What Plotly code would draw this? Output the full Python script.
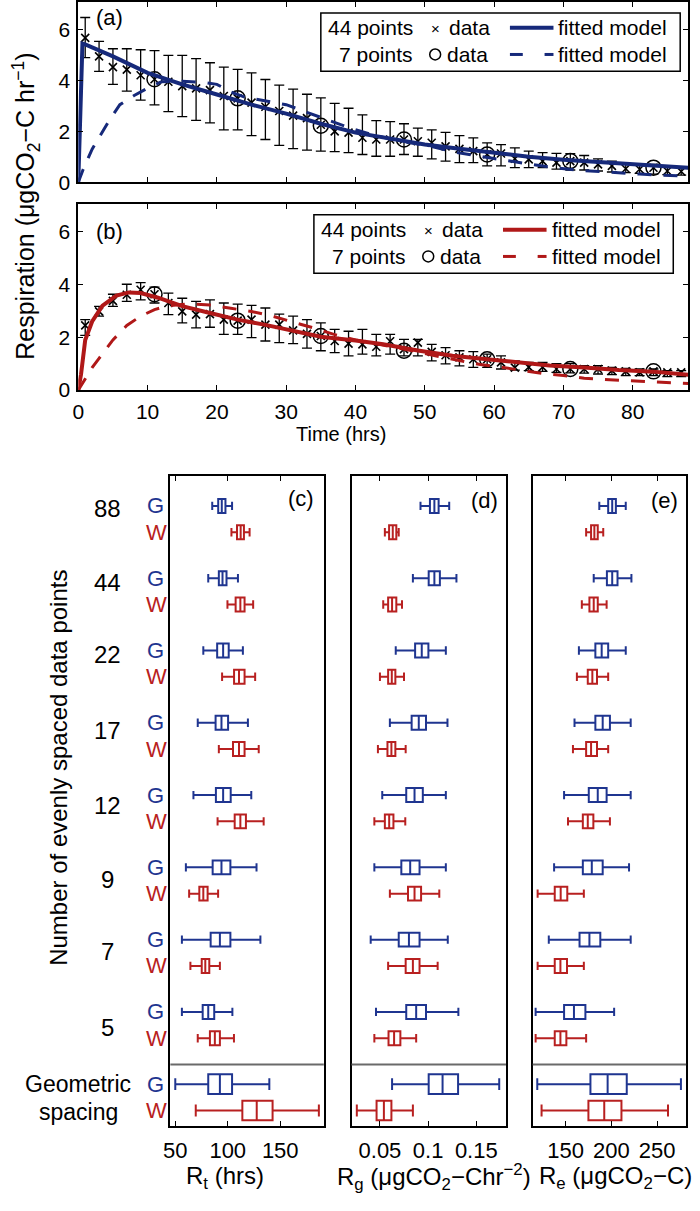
import plotly.graph_objects as go

W_PX, H_PX = 700, 1211
BLUE = "#16297a"
BLUE_BOX = "#1f3590"
RED = "#b01818"
RED_BOX = "#b82020"
FONT = "Liberation Sans, Arial, sans-serif"

# ---------------- time-series data ----------------
time_44 = list(range(1, 88, 2))
time_7 = [11, 23, 35, 47, 59, 71, 83]

resp_a_mean = [5.68, 4.95, 4.53, 4.43, 4.21, 4.05, 3.95, 3.78, 3.69, 3.62, 3.39, 3.30, 3.13, 2.97, 2.80,
               2.62, 2.52, 2.26, 2.00, 1.95, 1.75, 1.68, 1.68, 1.68, 1.61, 1.55, 1.41, 1.31, 1.22, 1.10,
               1.13, 0.92, 0.90, 0.83, 0.77, 0.83, 0.77, 0.70, 0.64, 0.53, 0.51, 0.57, 0.44, 0.42]
resp_a_upper = [6.48, 5.54, 5.25, 5.25, 5.21, 5.18, 4.99, 4.99, 4.86, 4.70, 4.53, 4.44, 4.30, 4.04, 3.82,
                3.66, 3.46, 3.32, 3.10, 2.91, 2.65, 2.42, 2.38, 2.30, 2.13, 2.06, 1.96, 1.83, 1.74, 1.55,
                1.48, 1.35, 1.22, 1.16, 1.13, 1.12, 1.05, 0.92, 0.83, 0.74, 0.70, 0.70, 0.60, 0.58]
resp_a_lower = [4.90, 4.36, 3.85, 3.58, 3.23, 3.04, 2.78, 2.58, 2.43, 2.33, 2.06, 2.06, 1.83, 1.68, 1.45,
                1.32, 1.26, 1.22, 1.20, 1.16, 1.09, 1.02, 1.02, 1.09, 1.02, 0.92, 0.83, 0.77, 0.77, 0.64,
                0.64, 0.57, 0.57, 0.57, 0.51, 0.48, 0.48, 0.44, 0.40, 0.38, 0.35, 0.32, 0.30, 0.28]
resp_a_7 = [4.05, 3.30, 2.22, 1.68, 1.09, 0.83, 0.57]

fit_a44_t = [0, 0.6, 1, 2, 5, 10, 15, 20, 25, 30, 35, 40, 45, 50, 55, 60, 65, 70, 75, 80, 85, 88]
fit_a44 = [0, 5.45, 5.42, 5.30, 4.95, 4.30, 3.85, 3.45, 3.05, 2.70, 2.30, 1.95, 1.72, 1.48, 1.32,
           1.15, 1.00, 0.88, 0.80, 0.70, 0.62, 0.57]
fit_a7_t = [0, 0.7, 2, 3, 4.4, 6, 8, 10, 12, 15, 18, 20, 22, 24, 27, 30, 33, 36, 39, 42, 45, 48, 51,
            54, 57, 60, 63, 66, 69, 72, 75, 78, 81, 84, 88]
fit_a7 = [0, 0.5, 1.3, 1.75, 2.4, 3.05, 3.4, 3.7, 3.95, 3.97, 3.93, 3.85, 3.55, 3.35, 3.2, 3.05, 2.75,
          2.45, 2.15, 1.9, 1.7, 1.55, 1.4, 1.2, 1.05, 0.93, 0.8, 0.68, 0.56, 0.47, 0.41, 0.36, 0.32,
          0.28, 0.24]

resp_b_mean = [2.45, 2.98, 3.38, 3.61, 3.80, 3.63, 3.30, 2.98, 2.86, 2.88, 2.67, 2.63, 2.67, 2.48, 2.48,
               2.26, 2.13, 2.05, 1.86, 1.76, 1.73, 1.64, 1.85, 1.55, 1.80, 1.45, 1.32, 1.24, 1.17, 1.17,
               1.05, 0.85, 0.87, 0.87, 0.80, 0.80, 0.80, 0.80, 0.74, 0.71, 0.67, 0.71, 0.67, 0.67]
resp_b_upper = [2.67, 3.17, 3.63, 4.01, 4.07, 3.90, 3.67, 3.48, 3.36, 3.42, 3.30, 3.26, 3.21, 3.11, 2.88,
                2.80, 2.67, 2.55, 2.30, 2.23, 2.30, 2.11, 2.11, 1.92, 1.92, 1.73, 1.61, 1.49, 1.46, 1.36,
                1.30, 1.11, 1.05, 1.05, 1.00, 1.00, 0.93, 0.93, 0.86, 0.82, 0.80, 0.80, 0.74, 0.74]
resp_b_lower = [2.07, 2.80, 3.17, 3.36, 3.42, 3.30, 2.86, 2.55, 2.36, 2.38, 2.11, 2.11, 1.99, 1.86, 1.80,
                1.76, 1.59, 1.49, 1.42, 1.30, 1.36, 1.30, 1.36, 1.30, 1.30, 1.11, 0.99, 0.92, 0.86, 0.86,
                0.80, 0.76, 0.74, 0.71, 0.67, 0.65, 0.64, 0.61, 0.59, 0.55, 0.55, 0.55, 0.51, 0.51]
resp_b_7 = [3.63, 2.63, 2.05, 1.49, 1.17, 0.80, 0.71]

fit_b44_t = [0, 0.4, 1, 2, 3.5, 5.5, 7.3, 9, 11.5, 15, 19, 23, 27, 31, 35, 40, 44, 49, 54, 59, 64, 68,
             73, 78, 83, 88]
fit_b44 = [0, 0.6, 1.9, 2.6, 3.2, 3.58, 3.7, 3.68, 3.5, 3.18, 2.92, 2.67, 2.47, 2.25, 2.02, 1.88, 1.74,
           1.5, 1.3, 1.17, 1.05, 0.93, 0.86, 0.76, 0.7, 0.58]
fit_b7_t = [0, 1, 2, 3, 5, 7, 9, 11, 13, 16, 19, 22, 25, 28, 31, 34, 37, 40, 43, 46, 49, 52, 55, 58, 61,
            64, 67, 70, 73, 76, 79, 82, 85, 88]
fit_b7 = [0, 0.45, 0.85, 1.2, 1.9, 2.45, 2.8, 3.05, 3.2, 3.27, 3.22, 3.1, 2.98, 2.8, 2.58, 2.35, 2.1,
          1.9, 1.75, 1.6, 1.45, 1.27, 1.12, 0.97, 0.87, 0.76, 0.63, 0.55, 0.45, 0.4, 0.36, 0.33, 0.3,
          0.25]

# ---------------- box-plot data ----------------
groups = ["88", "44", "22", "17", "12", "9", "7", "5", "Geometric"]
# each: [lower whisker, q1, median, q3, upper whisker]
rt_G = [[85.2, 90.9, 94.3, 97.8, 104.1], [81.4, 91.5, 95.0, 98.8, 109.7], [76.7, 89.9, 95.6, 100.9, 114.4],
        [71.4, 88.4, 94.0, 100.3, 119.2], [67.3, 88.7, 95.6, 102.8, 122.4], [60.1, 85.6, 94.0, 102.5, 127.4],
        [56.3, 83.7, 92.5, 102.5, 131.1], [56.3, 76.1, 81.4, 87.1, 104.4], [50.0, 81.4, 92.5, 104.1, 139.6]]
rt_W = [[103.5, 108.8, 112.3, 115.4, 120.8], [99.7, 107.5, 112.0, 116.0, 124.2], [94.6, 106.0, 110.7, 116.0, 126.1],
        [91.5, 105.0, 110.7, 116.0, 129.5], [90.3, 106.6, 112.0, 117.3, 134.2], [63.2, 72.9, 76.7, 80.8, 90.8],
        [64.4, 75.2, 78.6, 82.4, 92.5], [71.4, 83.0, 87.7, 92.5, 105.9], [69.5, 113.9, 127.6, 142.7, 186.8]]
rg_G = [[0.0921, 0.1019, 0.1065, 0.1109, 0.1219], [0.0842, 0.1006, 0.1065, 0.1122, 0.1294],
        [0.0664, 0.0865, 0.0934, 0.1003, 0.1184], [0.0603, 0.0829, 0.0903, 0.0978, 0.1201],
        [0.0524, 0.0773, 0.0859, 0.0945, 0.1184], [0.0442, 0.0722, 0.0814, 0.0911, 0.1184],
        [0.0404, 0.0695, 0.0801, 0.0911, 0.1204], [0.0459, 0.0773, 0.0876, 0.0978, 0.1314],
        [0.0626, 0.1006, 0.1150, 0.1311, 0.1738]]
rg_W = [[0.0551, 0.0595, 0.0633, 0.0670, 0.0695], [0.0534, 0.0585, 0.0626, 0.0670, 0.0729],
        [0.0500, 0.0585, 0.0623, 0.0660, 0.0750], [0.0479, 0.0578, 0.0619, 0.0660, 0.0767],
        [0.0442, 0.0551, 0.0596, 0.0640, 0.0763], [0.0603, 0.0791, 0.0859, 0.0927, 0.1116],
        [0.0585, 0.0767, 0.0842, 0.0911, 0.1099], [0.0442, 0.0589, 0.0647, 0.0712, 0.0876],
        [0.0260, 0.0465, 0.0541, 0.0619, 0.0842]]
re_G = [[186.8, 196.5, 200.9, 204.9, 215.7], [180.7, 195.1, 200.9, 206.7, 221.9], [164.5, 182.5, 189.4, 196.5, 215.7],
        [159.7, 182.5, 190.5, 198.4, 221.1], [148.3, 175.3, 185.1, 194.8, 221.1], [137.4, 168.8, 178.6, 190.5, 219.3],
        [131.6, 165.2, 176.0, 187.9, 221.1], [117.2, 148.3, 159.1, 171.6, 203.0], [119.0, 177.1, 195.9, 216.8, 276.0]]
re_W = [[172.4, 177.8, 181.4, 185.1, 191.1], [167.7, 176.0, 180.7, 185.1, 194.8], [162.3, 174.2, 179.2, 184.3, 196.5],
        [158.0, 172.4, 177.8, 184.3, 196.5], [152.6, 168.8, 174.2, 180.3, 198.4], [119.4, 138.1, 144.6, 151.8, 169.9],
        [119.4, 138.1, 144.3, 151.5, 169.9], [117.2, 138.1, 144.3, 150.8, 172.4], [123.7, 174.9, 192.2, 211.0, 261.9]]

rt_ticks = [50, 100, 150]
rg_ticks = [0.05, 0.1, 0.15]
rg_ticktext = ["0.05", "0.1", "0.15"]
re_ticks = [150, 200, 250]

# group slot positions on the (reversed) category axis
GROUP_STEP = 2.75
g_pos = [i * GROUP_STEP for i in range(len(groups))]
w_pos = [p + 1 for p in g_pos]
label_pos = [0.11, 2.90, 5.65, 8.55, 11.41, 14.2, 16.95, 19.85]


def px_x(x):
    return x / W_PX


def px_y(y):
    return 1 - y / H_PX


fig = go.Figure()

# ---- panel (a) and (b) ----
def add_ts(xa, ya, mean, up, lo, d7, f44t, f44, f7t, f7, color):
    fig.add_trace(go.Scatter(
        x=time_44, y=mean, mode="markers", xaxis=xa, yaxis=ya, showlegend=False,
        marker=dict(symbol="x-thin", size=8, color="black", line=dict(width=1.6, color="black")),
        error_y=dict(type="data", symmetric=False,
                     array=[u - m for u, m in zip(up, mean)],
                     arrayminus=[m - l for m, l in zip(mean, lo)],
                     color="black", thickness=1.3, width=5)))
    fig.add_trace(go.Scatter(
        x=time_7, y=d7, mode="markers", xaxis=xa, yaxis=ya, showlegend=False,
        marker=dict(symbol="circle-open", size=15, color="black", line=dict(width=1.5, color="black"))))
    fig.add_trace(go.Scatter(x=f7t, y=f7, mode="lines", xaxis=xa, yaxis=ya, showlegend=False,
                             line=dict(color=color, width=3, dash="14px,12px")))
    fig.add_trace(go.Scatter(x=f44t, y=f44, mode="lines", xaxis=xa, yaxis=ya, showlegend=False,
                             line=dict(color=color, width=4)))


add_ts("x", "y", resp_a_mean, resp_a_upper, resp_a_lower, resp_a_7, fit_a44_t, fit_a44, fit_a7_t, fit_a7, BLUE)
add_ts("x2", "y2", resp_b_mean, resp_b_upper, resp_b_lower, resp_b_7, fit_b44_t, fit_b44, fit_b7_t, fit_b7, RED)

# ---- box panels ----
def add_boxes(xa, ya, stats, pos, color):
    for sl, wid in ((slice(0, 8), 0.53), (slice(8, 9), 0.75)):
        s = stats[sl]
        fig.add_trace(go.Box(
            y=pos[sl], lowerfence=[v[0] for v in s], q1=[v[1] for v in s], median=[v[2] for v in s],
            q3=[v[3] for v in s], upperfence=[v[4] for v in s], orientation="h",
            xaxis=xa, yaxis=ya, width=wid, whiskerwidth=0.6, boxpoints=False,
            line=dict(color=color, width=2), fillcolor="white", showlegend=False, hoverinfo="skip"))


for xa, ya, sG, sW in (("x3", "y3", rt_G, rt_W), ("x4", "y4", rg_G, rg_W), ("x5", "y5", re_G, re_W)):
    add_boxes(xa, ya, sG, g_pos, BLUE_BOX)
    add_boxes(xa, ya, sW, w_pos, RED_BOX)

tick_font = dict(family=FONT, size=21, color="black")
box_tick_font = dict(family=FONT, size=22, color="black")
frame = dict(showline=True, linecolor="black", mirror="ticks", ticks="inside", ticklen=5,
             tickwidth=1.2, tickcolor="black", showgrid=False, zeroline=False)

BOX_Y_RANGE = [23.58, -1.13]

layout = dict(
    width=W_PX, height=H_PX, margin=dict(l=0, r=0, t=0, b=0),
    paper_bgcolor="white", plot_bgcolor="white", showlegend=False,
    font=dict(family=FONT, color="black"),
    xaxis=dict(domain=[px_x(72), px_x(688)], range=[0, 88], anchor="y", tickvals=list(range(0, 90, 10)),
               showticklabels=False, linewidth=2, tickfont=tick_font, **frame),
    yaxis=dict(domain=[px_y(183), px_y(0.75)], range=[0, 7.1], anchor="x", tickvals=[0, 2, 4, 6],
               linewidth=2, tickfont=tick_font, ticklabelstandoff=2, **frame),
    xaxis2=dict(domain=[px_x(72), px_x(688)], range=[0, 88], anchor="y2", tickvals=list(range(0, 90, 10)),
                linewidth=2, ticklabelstandoff=2, tickfont=tick_font, **frame),
    yaxis2=dict(domain=[px_y(393), px_y(205)], range=[0, 7.05], anchor="x2", tickvals=[0, 2, 4, 6],
                linewidth=2, tickfont=tick_font, ticklabelstandoff=2, **frame),
    xaxis3=dict(domain=[px_x(165), px_x(320)], range=[45.3, 191.5], anchor="y3", tickvals=rt_ticks,
                linewidth=1.6, ticklabelstandoff=4, tickfont=box_tick_font, **frame),
    xaxis4=dict(domain=[px_x(348), px_x(504)], range=[0.0205, 0.1808], anchor="y4", tickvals=rg_ticks,
                ticktext=rg_ticktext, linewidth=1.6, ticklabelstandoff=4, tickfont=box_tick_font, **frame),
    xaxis5=dict(domain=[px_x(531), px_x(686)], range=[114, 281.7], anchor="y5", tickvals=re_ticks,
                linewidth=1.6, ticklabelstandoff=4, tickfont=box_tick_font, **frame),
)
for i, xa in ((3, "x3"), (4, "x4"), (5, "x5")):
    layout[f"yaxis{i}"] = dict(domain=[px_y(1136), px_y(480)], range=BOX_Y_RANGE, anchor=xa,
                               showline=True, linecolor="black", linewidth=1.6, mirror=True, ticks="",
                               showticklabels=False, showgrid=False, zeroline=False)
fig.update_layout(**layout)

shapes = []
annotations = []


def ann(text, x, y, size=21, color="black", xanchor="center", xref="paper", yref="paper", **kw):
    annotations.append(dict(text=text, x=x, y=y, xref=xref, yref=yref, xanchor=xanchor, yanchor="middle",
                            showarrow=False, font=dict(family=FONT, size=size, color=color), **kw))


# separators in box panels
for xa, ya in (("x3", "y3"), ("x4", "y4"), ("x5", "y5")):
    shapes.append(dict(type="line", xref=f"{xa} domain", yref=ya, x0=0, x1=1, y0=21.25, y1=21.25,
                       line=dict(color="#6a6a6a", width=2)))


# legends
def legend(dx, dy, color):
    X = lambda v: px_x(v + dx)
    Y = lambda v: px_y(v + dy)
    shapes.append(dict(type="rect", xref="paper", yref="paper", x0=X(317), x1=X(680), y0=Y(12), y1=Y(71),
                       line=dict(color="black", width=1.5), fillcolor="white", layer="above"))
    ann("44 points", X(412), Y(27), size=21, xanchor="right")
    ann("7 points", X(412), Y(54), size=21, xanchor="right")
    ann("×", X(433), Y(28), size=15)
    shapes.append(dict(type="circle", xref="paper", yref="paper", x0=X(427), x1=X(438), y0=Y(48.5),
                       y1=Y(59.5), line=dict(color="black", width=1.5), layer="above"))
    ann("data", X(444), Y(27), size=21, xanchor="left")
    ann("data", X(442), Y(54), size=21, xanchor="left")
    shapes.append(dict(type="line", xref="paper", yref="paper", x0=X(508), x1=X(552), y0=Y(27), y1=Y(27),
                       line=dict(color=color, width=4), layer="above"))
    for a, b in ((508, 521), (543, 552)):
        shapes.append(dict(type="line", xref="paper", yref="paper", x0=X(a), x1=X(b), y0=Y(54), y1=Y(54),
                           line=dict(color=color, width=3), layer="above"))
    ann("fitted model", X(555), Y(27), size=21, xanchor="left")
    ann("fitted model", X(555), Y(54), size=21, xanchor="left")


legend(0, 0, BLUE)
legend(-7, 204, RED)

# panel letters
ann("(a)", px_x(104), px_y(17), size=22)
ann("(b)", px_x(104), px_y(233), size=22)
ann("(c)", px_x(297), px_y(502), size=22)
ann("(d)", px_x(482), px_y(505), size=22)
ann("(e)", px_x(664), px_y(505), size=22)

# axis titles
ann("Respiration (μgCO<sub>2</sub>−C hr<sup>−1</sup>)", px_x(19), px_y(207), size=25, textangle=-90)
ann("Time (hrs)", px_x(337), px_y(437), size=20)
ann("Number of evenly spaced data points", px_x(52), px_y(774), size=24, textangle=-90)
ann("R<sub>t</sub> (hrs)", px_x(220), px_y(1188), size=24)
ann("R<sub>g</sub> (μgCO<sub>2</sub>−Chr<sup>−2</sup>)", px_x(431), px_y(1188), size=24)
ann("R<sub>e</sub> (μgCO<sub>2</sub>−C)", px_x(615), px_y(1188), size=24)

# row labels
for lab, ly in zip(groups[:8], label_pos):
    ann(lab, px_x(102), ly, size=24, yref="y3")
for gp, wp in zip(g_pos, w_pos):
    ann("G", px_x(150), gp, size=22, color=BLUE_BOX, yref="y3")
    ann("W", px_x(151), wp, size=22, color=RED_BOX, yref="y3")
ann("Geometric", px_x(72), g_pos[8], size=23, yref="y3")
ann("spacing", px_x(72), w_pos[8] + 0.05, size=23, yref="y3")

fig.update_layout(shapes=shapes, annotations=annotations)
fig.write_html("out.html", config={"displayModeBar": False},
               post_script="document.body.style.margin='0px';document.body.style.overflow='hidden';")
